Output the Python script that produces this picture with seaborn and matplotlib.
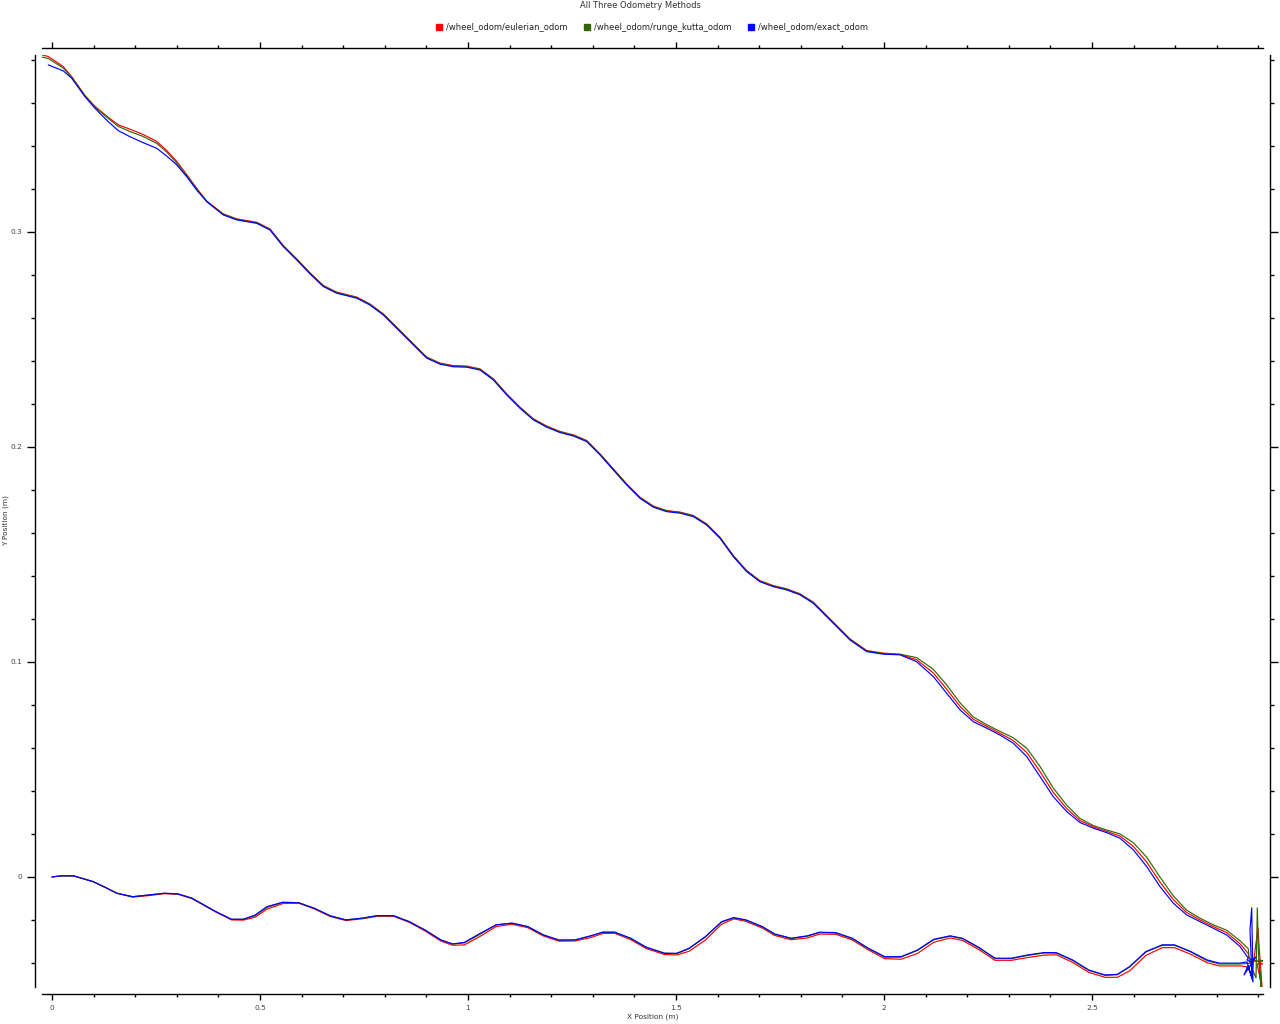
import numpy as np
import pandas as pd
import matplotlib
matplotlib.use("Agg")
import matplotlib.pyplot as plt
from matplotlib.lines import Line2D
from matplotlib.ticker import MultipleLocator, FormatStrFormatter
import seaborn as sns

#=================================#
# Data
#=================================#

methods = ['/wheel_odom/eulerian_odom', '/wheel_odom/runge_kutta_odom', '/wheel_odom/exact_odom']
colors = ['#ff0000', '#336600', '#0000ff']

# outbound leg (x shared by all three methods)
out_x = [0.0000, 0.0231, 0.0517, 0.0707, 0.0990, 0.1274, 0.1560, 0.1940, 0.2320, 0.2700,
         0.3031, 0.3365, 0.3649, 0.3935, 0.4315, 0.4599, 0.4885, 0.5168, 0.5548, 0.5928,
         0.6308, 0.6688, 0.7067, 0.7447, 0.7827, 0.8207, 0.8587, 0.8966, 0.9346, 0.9632,
         0.9916, 1.0296, 1.0675, 1.1055, 1.1435, 1.1815, 1.2195, 1.2575, 1.2954, 1.3240,
         1.3524, 1.3904, 1.4284, 1.4724, 1.5017, 1.5313, 1.5704, 1.6096, 1.6389, 1.6685,
         1.7077, 1.7370, 1.7764, 1.8156, 1.8450, 1.8841, 1.9236, 1.9627, 2.0019, 2.0411,
         2.0803, 2.1197, 2.1589, 2.1882, 2.2274, 2.2668, 2.3060, 2.3452, 2.3844, 2.4139,
         2.4531, 2.4923, 2.5315, 2.5611, 2.5904, 2.6296, 2.6688, 2.6983, 2.7375, 2.7767,
         2.8063, 2.8553]

exact_out_y = [0.0000, 0.0005, 0.0005, -0.0006, -0.0022, -0.0048, -0.0076, -0.0092, -0.0084, -0.0076,
               -0.0079, -0.0099, -0.0130, -0.0161, -0.0197, -0.0197, -0.0177, -0.0138, -0.0118, -0.0120,
               -0.0146, -0.0181, -0.0200, -0.0192, -0.0180, -0.0180, -0.0208, -0.0247, -0.0293, -0.0312,
               -0.0304, -0.0262, -0.0223, -0.0215, -0.0231, -0.0270, -0.0294, -0.0293, -0.0274, -0.0257,
               -0.0257, -0.0285, -0.0327, -0.0355, -0.0355, -0.0332, -0.0278, -0.0208, -0.0189, -0.0200,
               -0.0231, -0.0265, -0.0285, -0.0274, -0.0257, -0.0259, -0.0285, -0.0332, -0.0371, -0.0371,
               -0.0340, -0.0290, -0.0274, -0.0285, -0.0327, -0.0378, -0.0378, -0.0363, -0.0352, -0.0352,
               -0.0386, -0.0433, -0.0456, -0.0453, -0.0417, -0.0347, -0.0316, -0.0316, -0.0347, -0.0386,
               -0.0401, -0.0401]

euler_out_y = [0.0000, 0.0005, 0.0005, -0.0006, -0.0022, -0.0048, -0.0076, -0.0094, -0.0087, -0.0078,
               -0.0081, -0.0101, -0.0132, -0.0163, -0.0200, -0.0201, -0.0187, -0.0150, -0.0124, -0.0122,
               -0.0149, -0.0184, -0.0203, -0.0195, -0.0183, -0.0183, -0.0211, -0.0251, -0.0298, -0.0318,
               -0.0316, -0.0276, -0.0231, -0.0220, -0.0236, -0.0275, -0.0299, -0.0298, -0.0282, -0.0263,
               -0.0262, -0.0291, -0.0333, -0.0361, -0.0363, -0.0346, -0.0294, -0.0220, -0.0195, -0.0207,
               -0.0238, -0.0272, -0.0292, -0.0284, -0.0266, -0.0267, -0.0293, -0.0340, -0.0380, -0.0383,
               -0.0356, -0.0304, -0.0284, -0.0295, -0.0337, -0.0388, -0.0388, -0.0375, -0.0364, -0.0362,
               -0.0397, -0.0444, -0.0467, -0.0467, -0.0437, -0.0365, -0.0329, -0.0329, -0.0360, -0.0399,
               -0.0414, -0.0414]

rk_out_y = [0.0000, 0.0005, 0.0005, -0.0006, -0.0022, -0.0048, -0.0076, -0.0092, -0.0084, -0.0076,
            -0.0079, -0.0099, -0.0130, -0.0161, -0.0197, -0.0197, -0.0180, -0.0142, -0.0118, -0.0120,
            -0.0146, -0.0181, -0.0200, -0.0192, -0.0180, -0.0180, -0.0208, -0.0247, -0.0293, -0.0312,
            -0.0307, -0.0266, -0.0223, -0.0215, -0.0231, -0.0270, -0.0294, -0.0293, -0.0274, -0.0257,
            -0.0257, -0.0285, -0.0327, -0.0355, -0.0357, -0.0334, -0.0280, -0.0210, -0.0191, -0.0202,
            -0.0233, -0.0267, -0.0287, -0.0276, -0.0259, -0.0261, -0.0287, -0.0334, -0.0373, -0.0373,
            -0.0342, -0.0292, -0.0276, -0.0287, -0.0329, -0.0380, -0.0380, -0.0365, -0.0354, -0.0354,
            -0.0388, -0.0435, -0.0458, -0.0455, -0.0419, -0.0349, -0.0318, -0.0318, -0.0349, -0.0390,
            -0.0405, -0.0405]

# the jumble at the far end
exact_end_x = [2.8726, 2.8846, 2.8798, 2.8839, 2.8870, 2.8750, 2.8654, 2.8942, 2.8798, 2.8726]
exact_end_y = [-0.0395, -0.0470, -0.0247, -0.0144, -0.0488, -0.0414, -0.0456, -0.0372, -0.0395, -0.0386]
euler_end_x = [2.8702, 2.8846, 2.8990, 2.9014, 2.9087, 2.8966, 2.9111, 2.8894, 2.8798]
euler_end_y = [-0.0417, -0.0451, -0.0237, -0.0316, -0.0512, -0.0405, -0.0405, -0.0386, -0.0400]
rk_end_x = [2.8798, 2.8942, 2.8974, 2.9002, 2.9062, 2.9014, 2.9111, 2.8846, 2.8774]
rk_end_y = [-0.0402, -0.0470, -0.0144, -0.0363, -0.0512, -0.0386, -0.0391, -0.0391, -0.0372]

# return leg, listed left to right (x shared by all three methods)
back_x = [-0.0233, -0.0089, 0.0272, 0.0474, 0.0793, 0.1034, 0.1353, 0.1594, 0.1875, 0.2195,
          0.2517, 0.2757, 0.2998, 0.3238, 0.3478, 0.3719, 0.4118, 0.4440, 0.4921, 0.5240,
          0.5560, 0.5882, 0.6202, 0.6522, 0.6844, 0.7325, 0.7644, 0.7964, 0.8286, 0.8606,
          0.9007, 0.9327, 0.9647, 0.9969, 1.0288, 1.0608, 1.0930, 1.1250, 1.1570, 1.1892,
          1.2212, 1.2531, 1.2853, 1.3173, 1.3493, 1.3815, 1.4135, 1.4454, 1.4776, 1.5096,
          1.5416, 1.5738, 1.6058, 1.6377, 1.6699, 1.7019, 1.7339, 1.7661, 1.7981, 1.8300,
          1.8541, 1.8863, 1.9183, 1.9584, 1.9983, 2.0385, 2.0786, 2.1185, 2.1507, 2.1827,
          2.2147, 2.2469, 2.2788, 2.3108, 2.3430, 2.3750, 2.4070, 2.4392, 2.4712, 2.5031,
          2.5353, 2.5673, 2.5993, 2.6315, 2.6635, 2.6954, 2.7276, 2.7596, 2.7916, 2.8238,
          2.8558, 2.8757]

exact_back_y = [np.nan, 0.3777, 0.3749, 0.3715, 0.3629, 0.3575, 0.3513, 0.3471, 0.3443, 0.3415,
                0.3389, 0.3353, 0.3312, 0.3257, 0.3195, 0.3141, 0.3079, 0.3056, 0.3040, 0.3009,
                0.2932, 0.2870, 0.2805, 0.2746, 0.2715, 0.2692, 0.2660, 0.2614, 0.2552, 0.2490,
                0.2413, 0.2385, 0.2373, 0.2371, 0.2358, 0.2312, 0.2242, 0.2180, 0.2126, 0.2092,
                0.2067, 0.2051, 0.2025, 0.1963, 0.1893, 0.1823, 0.1761, 0.1720, 0.1699, 0.1692,
                0.1676, 0.1637, 0.1575, 0.1490, 0.1420, 0.1373, 0.1350, 0.1335, 0.1312, 0.1273,
                0.1227, 0.1164, 0.1102, 0.1048, 0.1036, 0.1033, 0.1001, 0.0932, 0.0854, 0.0777,
                0.0722, 0.0692, 0.0660, 0.0622, 0.0560, 0.0467, 0.0373, 0.0304, 0.0253, 0.0227,
                0.0206, 0.0180, 0.0126, 0.0048, -0.0045, -0.0122, -0.0177, -0.0208, -0.0239, -0.0270,
                -0.0324, -0.0378]

euler_back_y = [0.3823, 0.3816, 0.3769, 0.3722, 0.3635, 0.3584, 0.3533, 0.3498, 0.3478, 0.3453,
                0.3421, 0.3379, 0.3328, 0.3267, 0.3203, 0.3144, 0.3084, 0.3061, 0.3045, 0.3014,
                0.2937, 0.2875, 0.2810, 0.2751, 0.2720, 0.2697, 0.2665, 0.2619, 0.2557, 0.2495,
                0.2418, 0.2390, 0.2378, 0.2376, 0.2363, 0.2317, 0.2247, 0.2185, 0.2131, 0.2097,
                0.2072, 0.2056, 0.2030, 0.1968, 0.1898, 0.1828, 0.1766, 0.1725, 0.1704, 0.1697,
                0.1681, 0.1642, 0.1580, 0.1495, 0.1425, 0.1378, 0.1355, 0.1340, 0.1317, 0.1278,
                0.1232, 0.1169, 0.1107, 0.1053, 0.1041, 0.1035, 0.1010, 0.0949, 0.0873, 0.0793,
                0.0733, 0.0700, 0.0668, 0.0634, 0.0579, 0.0490, 0.0393, 0.0318, 0.0262, 0.0233,
                0.0212, 0.0190, 0.0142, 0.0069, -0.0024, -0.0105, -0.0166, -0.0200, -0.0231, -0.0259,
                -0.0311, -0.0357]

rk_back_y = [0.3813, 0.3807, 0.3762, 0.3720, 0.3633, 0.3581, 0.3528, 0.3491, 0.3467, 0.3444,
             0.3412, 0.3372, 0.3321, 0.3263, 0.3200, 0.3142, 0.3082, 0.3059, 0.3043, 0.3012,
             0.2935, 0.2873, 0.2808, 0.2749, 0.2718, 0.2695, 0.2663, 0.2617, 0.2555, 0.2493,
             0.2416, 0.2388, 0.2376, 0.2374, 0.2361, 0.2315, 0.2245, 0.2183, 0.2129, 0.2095,
             0.2070, 0.2054, 0.2028, 0.1966, 0.1896, 0.1826, 0.1764, 0.1723, 0.1702, 0.1695,
             0.1679, 0.1640, 0.1578, 0.1493, 0.1423, 0.1376, 0.1353, 0.1338, 0.1315, 0.1276,
             0.1230, 0.1167, 0.1105, 0.1051, 0.1039, 0.1036, 0.1020, 0.0966, 0.0893, 0.0810,
             0.0744, 0.0708, 0.0677, 0.0647, 0.0599, 0.0514, 0.0413, 0.0334, 0.0272, 0.0239,
             0.0218, 0.0200, 0.0159, 0.0092, -0.0001, -0.0088, -0.0155, -0.0192, -0.0223, -0.0248,
             -0.0297, -0.0334]

#=================================#
# Build one long frame, path order kept
#=================================#

pieces = [
    (methods[0], euler_out_y, euler_end_x, euler_end_y, euler_back_y),
    (methods[1], rk_out_y, rk_end_x, rk_end_y, rk_back_y),
    (methods[2], exact_out_y, exact_end_x, exact_end_y, exact_back_y),
]
frames = []
for name, oy, ex, ey, by in pieces:
    xs = out_x + ex + back_x[::-1]
    ys = oy + ey + by[::-1]
    frames.append(pd.DataFrame({'x': xs, 'y': ys, 'method': name}))
odom_df = pd.concat(frames, ignore_index=True)

#=================================#
# Plot
#=================================#

sns.set_style('ticks')
plt.rcParams['font.family'] = ['DejaVu Sans']

fig = plt.figure(figsize=(12.8, 10.24), dpi=100)
ax = fig.add_axes([42 / 1280, 1 - 987 / 1024, 1221.4 / 1280, 932 / 1024])

sns.lineplot(data=odom_df, x='x', y='y', hue='method', hue_order=methods,
             palette=dict(zip(methods, colors)), sort=False, estimator=None,
             linewidth=0.85, legend=False, ax=ax)

ax.set_xlim(-0.024, 2.912)
ax.set_ylim(-0.0512, 0.3823)

# detached spines on all four sides, ticks pointing out
for side in ['left', 'right', 'top', 'bottom']:
    ax.spines[side].set_visible(True)
    ax.spines[side].set_position(('outward', 5))
    ax.spines[side].set_linewidth(1.0)
    ax.spines[side].set_color('black')

ax.xaxis.set_major_locator(MultipleLocator(0.5))
ax.xaxis.set_minor_locator(MultipleLocator(0.1))
ax.yaxis.set_major_locator(MultipleLocator(0.1))
ax.yaxis.set_minor_locator(MultipleLocator(0.02))
ax.xaxis.set_major_formatter(FormatStrFormatter('%g'))
ax.yaxis.set_major_formatter(FormatStrFormatter('%g'))

ax.tick_params(which='both', direction='out', top=True, right=True,
               labeltop=False, labelright=False, color='black', width=1.0)
ax.tick_params(axis='x', which='major', length=4.5, pad=3.5, labelsize=5.3, labelcolor='#444444')
ax.tick_params(axis='x', which='minor', length=2.5)
ax.tick_params(axis='y', which='major', length=6, pad=3, labelsize=5.3, labelcolor='#444444')
ax.tick_params(axis='y', which='minor', length=3)

ax.set_xlabel('X Position (m)', fontsize=5.3, color='#333333', labelpad=1.5)
ax.set_ylabel('Y Position (m)', fontsize=5.3, color='#333333')
ax.yaxis.set_label_coords(-0.0272, 0.5)
ax.grid(False)

fig.text(0.5, 1 - 5 / 1024, 'All Three Odometry Methods', ha='center', va='center',
         fontsize=6, color='#333333')

handles = [Line2D([], [], marker='s', linestyle='', color=c, markersize=5) for c in colors]
fig.legend(handles, methods, loc='center', bbox_to_anchor=(0.509, 1 - 27 / 1024), ncol=3,
           frameon=False, fontsize=6, handletextpad=0.3, columnspacing=1.9, handlelength=1.0,
           labelcolor='#222222')

plt.savefig('out.png', dpi=100)
